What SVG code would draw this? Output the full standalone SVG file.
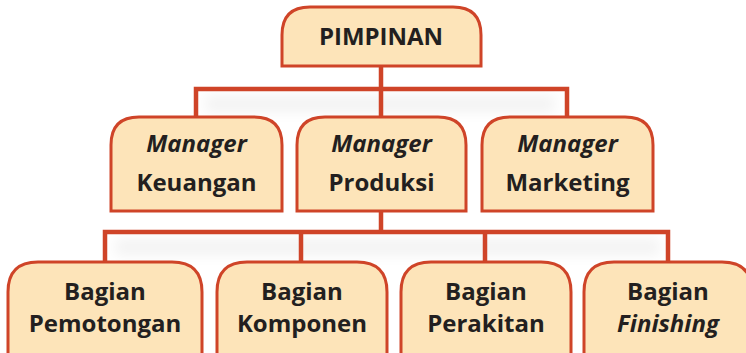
<svg xmlns="http://www.w3.org/2000/svg" width="746" height="353" viewBox="0 0 746 353">
  <defs>
    <filter id="soft" x="-10%" y="-150%" width="120%" height="400%">
      <feGaussianBlur stdDeviation="7"/>
    </filter>
    <style>
      .box { fill: #FDE4B9; stroke: #CF4428; stroke-width: 3; }
      .wire { fill: none; stroke: #CF4428; stroke-width: 4.5; stroke-linecap: butt; stroke-linejoin: miter; }
      .shade { fill: #000000; opacity: 0.05; filter: url(#soft); }
      text { font-family: "Open Sans", "Noto Sans", "Liberation Sans", sans-serif; font-weight: 700; fill: #231F20; text-anchor: middle; }
      .t1 { font-size: 24px; }
      .t { font-size: 24px; }
      .it { font-style: italic; }
    </style>
  </defs>

  <!-- soft shading under the horizontal rails -->
  <rect class="shade" x="205" y="96" width="350" height="16"/>
  <rect class="shade" x="115" y="239" width="545" height="16"/>

  <!-- connectors -->
  <g id="connectors">
    <path class="wire" d="M381 66 V117 M196 117 V89 H567 V117"/>
    <path class="wire" d="M381 211 V232 M105 262 V232 H668 V262 M301 232 V262 M485 232 V262"/>
  </g>

  <g id="pimpinan">
    <path class="box" d="M282 66 V35 Q282 7 310 7 H453 Q481 7 481 35 V66 Z"/>
    <text class="t1" x="381" y="45">PIMPINAN</text>
  </g>

  <g id="mgr-keuangan">
    <path class="box" d="M111 211 V145 Q111 117 139 117 H254 Q282 117 282 145 V211 Z"/>
    <text class="t it" x="196.5" y="152">Manager</text>
    <text class="t" x="196.5" y="191">Keuangan</text>
  </g>

  <g id="mgr-produksi">
    <path class="box" d="M297 211 V145 Q297 117 325 117 H438 Q466 117 466 145 V211 Z"/>
    <text class="t it" x="381.5" y="152">Manager</text>
    <text class="t" x="381.5" y="191">Produksi</text>
  </g>

  <g id="mgr-marketing">
    <path class="box" d="M482 211 V145 Q482 117 510 117 H625 Q653 117 653 145 V211 Z"/>
    <text class="t it" x="567.5" y="152">Manager</text>
    <text class="t" x="567.5" y="191">Marketing</text>
  </g>

  <g id="bag-pemotongan">
    <path class="box" d="M8 360 V292 Q8 262 38 262 H172 Q202 262 202 292 V360"/>
    <text class="t" x="105" y="300">Bagian</text>
    <text class="t" x="105" y="332">Pemotongan</text>
  </g>

  <g id="bag-komponen">
    <path class="box" d="M217 360 V292 Q217 262 247 262 H357 Q387 262 387 292 V360"/>
    <text class="t" x="302" y="300">Bagian</text>
    <text class="t" x="302" y="332">Komponen</text>
  </g>

  <g id="bag-perakitan">
    <path class="box" d="M401 360 V292 Q401 262 431 262 H541 Q571 262 571 292 V360"/>
    <text class="t" x="486" y="300">Bagian</text>
    <text class="t" x="486" y="332">Perakitan</text>
  </g>

  <g id="bag-finishing">
    <path class="box" d="M584 360 V292 Q584 262 614 262 H722 Q752 262 752 292 V360"/>
    <text class="t" x="668" y="300">Bagian</text>
    <text class="t it" x="668" y="332">Finishing</text>
  </g>
</svg>
